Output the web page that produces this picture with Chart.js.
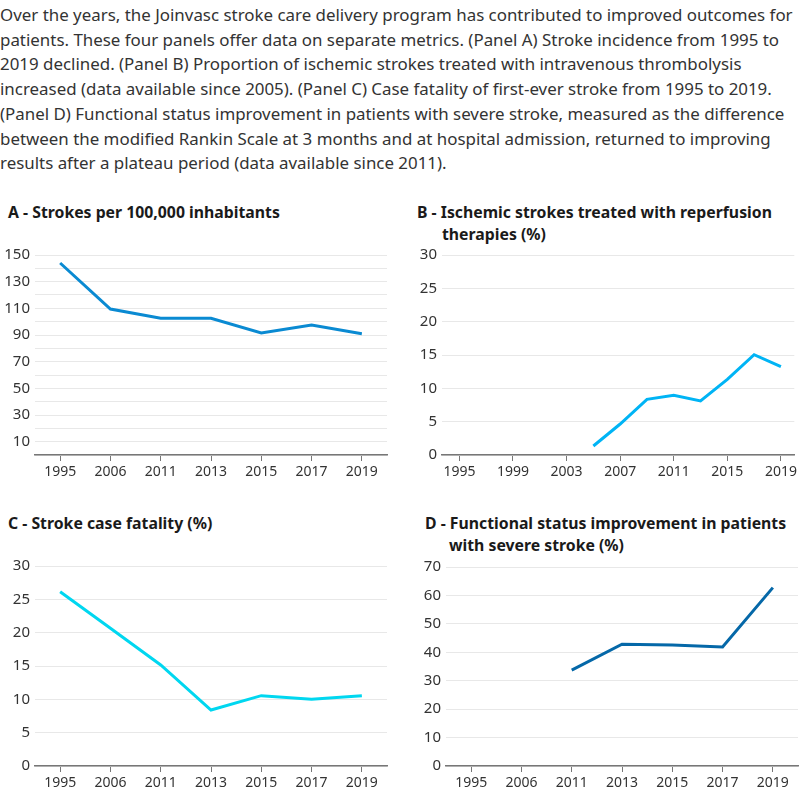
<!DOCTYPE html>
<html>
<head>
<meta charset="utf-8">
<script src="https://cdn.jsdelivr.net/npm/chart.js@4"></script>
<style>
  body { margin: 0; width: 800px; height: 800px; background: #fff; position: relative; overflow: hidden; font-family: "Noto Sans", sans-serif; }
  #intro { position: absolute; left: 0; top: 3px; width: 800px; margin: 0; font-size: 16.9px; line-height: 24.7px; color: #333; white-space: nowrap; }
  .title { position: absolute; font-weight: bold; font-size: 15.8px; line-height: 21.5px; color: #1a1a1a; white-space: nowrap; }
  .box { position: absolute; }
</style>
</head>
<body>
<p id="intro">Over the years, the Joinvasc stroke care delivery program has contributed to improved outcomes for<br>patients. These four panels offer data on separate metrics. (Panel A) Stroke incidence from 1995 to<br>2019 declined. (Panel B) Proportion of ischemic strokes treated with intravenous thrombolysis<br>increased (data available since 2005). (Panel C) Case fatality of first-ever stroke from 1995 to 2019.<br>(Panel D) Functional status improvement in patients with severe stroke, measured as the difference<br>between the modified Rankin Scale at 3 months and at hospital admission, returned to improving<br>results after a plateau period (data available since 2011).</p>

<div class="title" style="left:8px;top:202px;">A - Strokes per 100,000 inhabitants</div>
<div class="title" style="left:417px;top:202px;">B - Ischemic strokes treated with reperfusion<br><span style="padding-left:25px">therapies (%)</span></div>
<div class="title" style="left:8px;top:513px;">C - Stroke case fatality (%)</div>
<div class="title" style="left:425px;top:513px;">D - Functional status improvement in patients<br><span style="padding-left:24px">with severe stroke (%)</span></div>

<div class="box" style="left:0;top:240px;width:392px;height:250px;"><canvas id="chartA"></canvas></div>
<div class="box" style="left:400px;top:240px;width:400px;height:250px;"><canvas id="chartB"></canvas></div>
<div class="box" style="left:0;top:550px;width:392px;height:250px;"><canvas id="chartC"></canvas></div>
<div class="box" style="left:400px;top:550px;width:400px;height:250px;"><canvas id="chartD"></canvas></div>

<script>
// panel A - strokes per 100,000
const yearsA = ["1995", "2006", "2011", "2013", "2015", "2017", "2019"];
const strokesA = [144, 109.5, 102.5, 102.5, 91.5, 97.5, 91];

// panel B - reperfusion therapies (%)
const yearsB = [2005, 2007, 2009, 2011, 2013, 2015, 2017, 2019];
const reperfB = [1.35, 4.65, 8.35, 8.95, 8.1, 11.35, 15.05, 13.25];
const ticksB = [1995, 1999, 2003, 2007, 2011, 2015, 2019];

// panel C - case fatality (%)
const yearsC = ["1995", "2006", "2011", "2013", "2015", "2017", "2019"];
const fatalityC = [26.15, 20.65, 15.15, 8.4, 10.55, 10.0, 10.55];

// panel D - functional status improvement (%)
const yearsD = ["1995", "2006", "2011", "2013", "2015", "2017", "2019"];
const improvD = [null, null, 33.7, 42.85, 42.6, 41.9, 62.75];

Chart.defaults.font.family = "'Noto Sans', sans-serif";
Chart.defaults.color = "#333";
Chart.defaults.animation = false;

function xAxis(h, extra) {
  return Object.assign({
    grid: { drawOnChartArea: false, drawTicks: true, tickLength: 6, color: "#777" },
    border: { display: true, color: "#777", width: 1.5 },
    ticks: { font: { size: 14 }, padding: 3, maxRotation: 0, autoSkip: false },
    afterFit: (s) => { s.height = h; }
  }, extra);
}

function yAxis(w, min, max, step, cb) {
  return {
    min: min,
    max: max,
    grid: { drawTicks: false, color: "#e8e8e8" },
    border: { display: false },
    ticks: {
      stepSize: step,
      padding: 5,
      autoSkip: false,
      font: { size: 15 },
      callback: cb || ((v) => v)
    },
    afterFit: (s) => { s.width = w; }
  };
}

function makeChart(id, labels, data, color, scales, pad) {
  return new Chart(document.getElementById(id), {
    type: "line",
    data: {
      labels: labels,
      datasets: [{
        data: data,
        borderColor: color,
        borderWidth: 3,
        pointRadius: 0,
        tension: 0,
        spanGaps: false
      }]
    },
    options: {
      responsive: true,
      maintainAspectRatio: false,
      layout: { padding: pad },
      plugins: { legend: { display: false }, tooltip: { enabled: false } },
      scales: scales
    }
  });
}

makeChart("chartA", yearsA, strokesA, "#0a8ad2", {
  x: xAxis(35, { offset: true }),
  y: yAxis(35, 0, 150, 10, (v) => (v % 20 === 10 ? v : ""))
}, { top: 15, right: 5, left: 0, bottom: 0 });

makeChart("chartB", null, yearsB.map((yr, i) => ({ x: yr, y: reperfB[i] })), "#00b4f5", {
  x: xAxis(35, {
    type: "linear",
    min: 1993.7,
    max: 2020,
    afterBuildTicks: (s) => { s.ticks = ticksB.map((v) => ({ value: v })); },
    ticks: { font: { size: 14 }, padding: 3, maxRotation: 0, autoSkip: false, callback: (v) => String(v) }
  }),
  y: yAxis(42, 0, 30, 5)
}, { top: 15, right: 2, left: 0, bottom: 0 });

makeChart("chartC", yearsC, fatalityC, "#00d7f0", {
  x: xAxis(34, { offset: true }),
  y: yAxis(35, 0, 30, 5)
}, { top: 16, right: 5, left: 0, bottom: 0 });

makeChart("chartD", yearsD, improvD, "#0568a8", {
  x: xAxis(34, { offset: true }),
  y: yAxis(46, 0, 70, 10)
}, { top: 17, right: 2, left: 0, bottom: 0 });
</script>
</body>
</html>
